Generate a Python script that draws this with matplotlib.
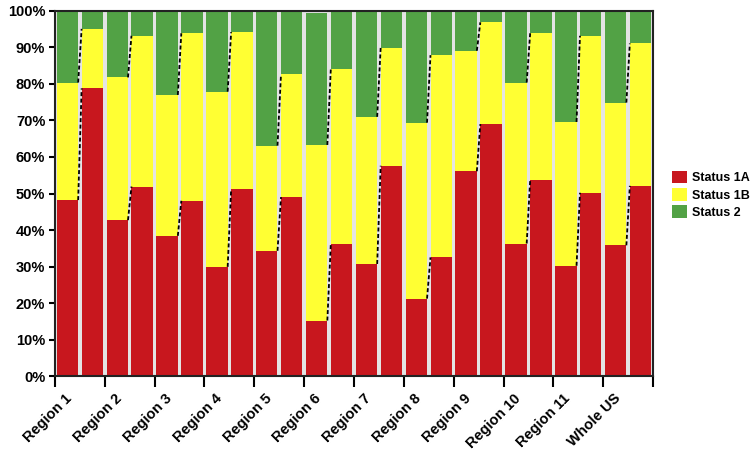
import numpy as np
from matplotlib import pyplot as plt

plt.rcParams['font.family'] = ['Liberation Sans', 'DejaVu Sans']
plt.rcParams['font.weight'] = 'bold'

regions = ["Region 1", "Region 2", "Region 3", "Region 4", "Region 5", "Region 6",
           "Region 7", "Region 8", "Region 9", "Region 10", "Region 11", "Whole US"]

# two bars per region, percentages of each status
status_1a = [48.2, 78.8, 42.7, 51.9, 38.4, 48.0, 29.9, 51.2, 34.3, 49.0, 15.2, 36.3,
             30.7, 57.6, 21.2, 32.5, 56.1, 69.0, 36.3, 53.7, 30.2, 50.2, 35.8, 52.1]
status_1b = [32.2, 16.3, 39.1, 41.3, 38.6, 45.9, 48.0, 43.0, 28.8, 33.6, 48.1, 47.9,
             40.3, 32.3, 48.2, 55.4, 33.0, 27.9, 44.1, 40.2, 39.4, 43.0, 39.1, 39.0]
status_2 = [19.6, 4.9, 18.2, 6.8, 23.0, 6.1, 22.1, 5.8, 36.9, 17.4, 36.2, 15.8,
            29.0, 10.1, 30.6, 12.1, 10.9, 3.1, 19.6, 6.1, 30.4, 6.8, 25.1, 8.9]

colors = {"Status 1A": "#c8171e", "Status 1B": "#ffff33", "Status 2": "#52a245"}

a = np.array(status_1a)
b = np.array(status_1b)
c = np.array(status_2)
x = np.arange(len(a))
w = 0.86

fig = plt.figure(figsize=(7.5, 4.5), dpi=100)
ax = fig.add_axes([0.0733, 0.1644, 0.7974, 0.8112])
ax.set_facecolor("#e4e4e4")

ax.bar(x, a, w, color=colors["Status 1A"], label="Status 1A")
ax.bar(x, b, w, bottom=a, color=colors["Status 1B"], label="Status 1B")
ax.bar(x, c, w, bottom=a + b, color=colors["Status 2"], label="Status 2")

# dashed connectors between the two bars of each region
for i in range(0, len(a), 2):
    for lvl in (a, a + b):
        ax.plot([x[i] + w / 2, x[i + 1] - w / 2], [lvl[i], lvl[i + 1]],
                color="black", lw=1.3, ls=(0, (2.2, 1.4)))

ax.set_xlim(-0.5, len(a) - 0.5)
ax.set_ylim(0, 100)
ax.set_yticks(np.arange(0, 101, 10))
ax.set_yticklabels([f"{v}%" for v in range(0, 101, 10)], fontsize=10.5, fontweight="bold")

# tick marks at group edges, labels sit slightly right of them
ax.set_xticks(np.arange(0, len(a) + 1, 2) - 0.5)
ax.set_xticklabels([])
ax.set_xticks(np.arange(0, len(a), 2) + 0.3, minor=True)
ax.set_xticklabels(regions, minor=True, rotation=45, ha="right",
                   fontsize=10.5, fontweight="bold")

ax.tick_params(axis="x", which="major", length=8, width=1.5)
ax.tick_params(axis="x", which="minor", length=0, pad=11)
ax.tick_params(axis="y", length=4, width=1.5, pad=3)
for s in ax.spines.values():
    s.set_linewidth(1.5)
    s.set_color("#222222")

fig.legend(loc="center left", bbox_to_anchor=(0.888, 0.567), frameon=False,
           prop={"size": 9, "weight": "bold"}, handlelength=1.2, handleheight=1.2,
           handletextpad=0.4, labelspacing=0.3, borderpad=0)

plt.savefig("out.png", dpi=100)
